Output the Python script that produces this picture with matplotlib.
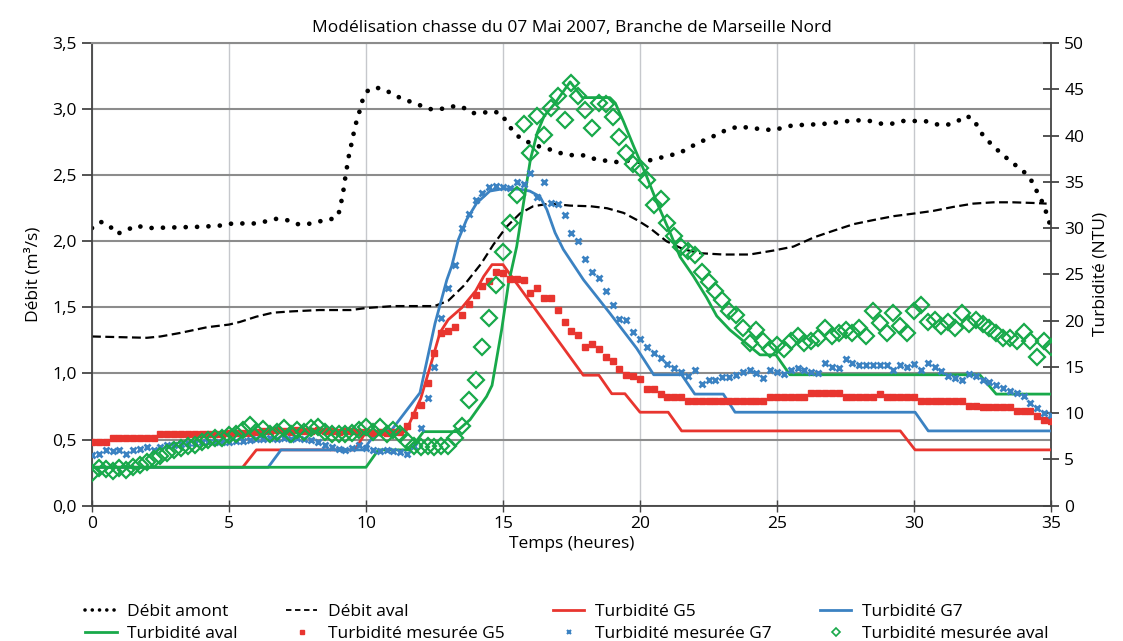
import numpy as np
import matplotlib
matplotlib.use("Agg")
import matplotlib.pyplot as plt
from matplotlib.lines import Line2D
from matplotlib.ticker import FuncFormatter, MultipleLocator

plt.rcParams['font.family'] = ['Open Sans', 'DejaVu Sans']

############################################
# Débit (m3/s), left axis
amont_t = [0, 0.32, 0.63, 0.9, 1.24, 1.6, 2.0, 3.0, 4.0, 4.74, 5.13, 5.93, 6.33, 6.73, 7.12,
           7.48, 7.87, 8.26, 8.64, 8.98, 9.07, 9.15, 9.21, 9.27, 9.34, 9.4, 9.5, 9.57, 9.67,
           9.79, 9.89, 10.1, 10.47, 10.83, 11.2, 11.57, 11.96, 12.31, 12.72, 13.11, 13.49,
           13.86, 14.22, 14.61, 14.95, 15.13, 15.38, 15.68, 16.05, 16.41, 16.8, 17.2, 17.59,
           17.99, 18.38, 18.74, 19.14, 19.53, 19.9, 20.3, 20.7, 21.1, 21.46, 21.82, 22.16,
           22.55, 22.9, 23.26, 23.65, 24.04, 24.44, 24.84, 25.23, 25.63, 26.0, 26.42, 26.8,
           27.2, 27.6, 28.0, 28.4, 28.8, 29.2, 29.6, 30.0, 30.4, 30.8, 31.2, 31.6, 31.9, 32.2,
           32.35, 32.6, 32.9, 33.2, 33.5, 33.8, 34.1, 34.35, 34.5, 34.7, 34.84, 35.0]
amont_q = [2.10, 2.147, 2.12, 2.056, 2.08, 2.12, 2.10, 2.105, 2.11, 2.12, 2.135, 2.135, 2.15, 2.17, 2.16,
           2.13, 2.13, 2.15, 2.16, 2.19, 2.27, 2.35, 2.43, 2.52, 2.60, 2.68, 2.76, 2.84, 2.92,
           3.00, 3.08, 3.15, 3.16, 3.13, 3.09, 3.06, 3.03, 3.00, 3.00, 3.02, 3.02,
           2.97, 2.97, 2.985, 2.965, 2.90, 2.83, 2.77, 2.74, 2.71, 2.69, 2.66, 2.65,
           2.65, 2.62, 2.61, 2.60, 2.61, 2.60, 2.61, 2.63, 2.65, 2.67, 2.71, 2.75,
           2.78, 2.82, 2.85, 2.87, 2.855, 2.85, 2.84, 2.86, 2.88, 2.88, 2.885, 2.89,
           2.90, 2.91, 2.915, 2.91, 2.89, 2.89, 2.91, 2.91, 2.91, 2.885, 2.88, 2.91, 2.95, 2.92,
           2.85, 2.78, 2.72, 2.66, 2.61, 2.56, 2.51, 2.44, 2.37, 2.29, 2.21, 2.10]

aval_t = [0, 1, 2, 2.5, 3.2, 4.2, 5.0, 5.4, 6.0, 6.6, 7.3, 8.3, 9.45, 10.0, 11.0, 12.5, 13.0,
          13.55, 14.2, 14.65, 15.13, 15.62, 16.1, 16.7, 17.45, 18.2, 18.8, 19.4, 19.9, 20.36,
          20.97, 21.58, 22.19, 23.04, 24.0, 24.87, 25.6, 26.35, 27.06, 27.8, 28.5, 29.25,
          30.0, 30.7, 31.43, 32.16, 32.9, 33.6, 34.35, 34.84]
aval_q = [1.28, 1.275, 1.27, 1.28, 1.306, 1.35, 1.37, 1.39, 1.43, 1.46, 1.47, 1.48, 1.48, 1.495, 1.51, 1.51, 1.55,
          1.66, 1.83, 1.975, 2.11, 2.21, 2.265, 2.285, 2.27, 2.265, 2.25, 2.215, 2.16, 2.10,
          2.0, 1.94, 1.91, 1.90, 1.90, 1.93, 1.96, 2.03, 2.08, 2.13, 2.16, 2.19,
          2.21, 2.23, 2.26, 2.285, 2.295, 2.295, 2.29, 2.285]

# Turbidité modélisée (NTU), right axis
g5_t = [0, 5.5, 6.0, 9.6, 10.0, 11.45, 12.0, 12.4, 12.7, 13.0, 13.5, 14.0, 14.3, 14.6, 15.0,
        17.93, 18.5, 18.97, 19.45, 20.0, 21.03, 21.52, 29.5, 30.04, 35]
g5_v = [4.15, 4.15, 6.03, 6.03, 8.0, 8.0, 11.6, 15.6, 18.7, 20.1, 21.4, 23.2, 24.8, 26.05, 26.05,
        14.1, 14.1, 12.1, 12.1, 10.1, 10.1, 8.08, 8.08, 6.03, 6.03]

g7_t = [0, 6.43, 6.9, 9.9, 10.4, 10.94, 11.97, 12.52, 12.95, 13.13, 13.37, 13.67, 14.04, 14.52,
        15.0, 15.62, 15.98, 16.35, 16.6, 16.9, 17.2, 17.94, 18.9, 19.88, 20.5, 21.52, 22.0,
        23.04, 23.47, 30.04, 30.52, 35]
g7_v = [4.15, 4.15, 6.03, 6.03, 8.0, 8.2, 12.2, 19.7, 24.4, 25.9, 28.75, 30.9, 32.7, 34.0,
        34.25, 34.2, 34.0, 33.4, 32.0, 29.5, 27.7, 24.4, 20.8, 17.0, 14.15, 14.15, 12.06,
        12.06, 10.1, 10.1, 8.08, 8.08]

tav_t = [0, 10.0, 10.45, 11.6, 12.1, 13.3, 13.8, 14.4, 14.6, 14.95, 15.2, 15.5, 15.77, 16.0,
         16.25, 16.5, 16.9, 17.45, 17.9, 18.9, 19.1, 19.4, 19.76, 20.24, 20.67, 21.1, 21.46,
         21.95, 22.43, 22.8, 23.28, 24.38, 24.96, 25.47, 32.4, 33.0, 35]
tav_v = [4.15, 4.15, 6.03, 6.03, 8.0, 8.0, 9.3, 11.8, 13.0, 19.0, 24.0, 28.0, 33.1, 37.4,
         40.3, 42.1, 43.5, 45.8, 44.1, 44.1, 43.5, 41.5, 38.9, 35.6, 32.4, 29.5, 26.9,
         24.8, 22.5, 20.5, 19.0, 16.3, 16.3, 14.15, 14.15, 12.06, 12.06]

# Turbidité mesurée (NTU), un point toutes les 15 min
t_mes = np.arange(0, 35.01, 0.25)
mes_g5 = [6.9, 6.9, 6.9, 7.3, 7.3, 7.3, 7.3, 7.3, 7.3, 7.3, 7.8, 7.8, 7.8, 7.8, 7.8, 7.8, 7.8, 7.8, 7.8, 7.8,
          7.9, 7.9, 7.9, 7.9, 8.0, 8.1, 8.1, 8.2, 8.1, 8.0, 8.2, 8.1, 8.1, 8.2, 8.1, 8.1, 8.0, 8.1, 8.1, 8.0,
          8.0, 7.9, 8.0, 7.9, 8.0, 8.0, 8.6, 9.8, 10.9, 13.3, 16.5, 18.7, 18.9, 19.3, 20.6, 21.8, 22.8, 23.7, 24.3, 25.2,
          25.1, 24.5, 24.5, 24.4, 23.0, 23.5, 22.4, 22.4, 21.2, 19.8, 18.9, 18.4, 17.1, 17.5, 16.9, 16.1, 15.6, 14.8, 14.1, 14.0,
          13.7, 12.6, 12.6, 12.05, 11.7, 11.7, 11.7, 11.3, 11.3, 11.3, 11.3, 11.3, 11.3, 11.3, 11.3, 11.3, 11.3, 11.3, 11.3, 11.7,
          11.7, 11.7, 11.7, 11.7, 11.7, 12.2, 12.2, 12.2, 12.2, 12.2, 11.7, 11.7, 11.7, 11.7, 11.7, 12.1, 11.7, 11.7, 11.7, 11.7,
          11.7, 11.3, 11.3, 11.3, 11.3, 11.3, 11.3, 11.3, 10.8, 10.8, 10.65, 10.65, 10.65, 10.65, 10.65, 10.25, 10.25, 10.25, 9.7, 9.3,
          9.2]
mes_g7 = [5.5, 5.6, 6.0, 5.9, 6.0, 5.6, 6.0, 6.1, 6.3, 6.0, 6.3, 6.6, 6.6, 6.7, 6.8, 6.8, 6.9, 6.9, 6.9, 6.9,
          6.9, 7.0, 7.0, 7.1, 7.2, 7.2, 7.3, 7.2, 7.3, 7.2, 7.3, 7.2, 7.1, 6.9, 6.6, 6.3, 6.1, 6.0, 6.2, 6.6,
          6.2, 6.0, 5.9, 6.0, 5.9, 5.8, 5.6, 6.5, 8.4, 11.6, 15.0, 20.3, 23.5, 26.0, 30.0, 31.5, 33.0, 33.8, 34.4, 34.5,
          34.4, 34.3, 35.0, 34.8, 36.0, 33.4, 35.0, 32.7, 32.6, 31.4, 29.5, 28.6, 26.7, 25.3, 24.6, 23.2, 21.7, 20.2, 20.1, 18.8,
          18.0, 17.2, 16.5, 16.0, 15.3, 14.9, 14.4, 14.0, 14.7, 13.1, 13.6, 13.6, 13.9, 13.9, 14.15, 14.5, 14.7, 14.3, 13.8, 14.7,
          14.5, 14.2, 14.7, 14.9, 14.7, 14.5, 14.3, 15.4, 15.0, 14.9, 15.8, 15.4, 15.2, 15.2, 15.2, 15.2, 15.2, 14.7, 15.2, 15.0,
          15.3, 14.7, 15.4, 15.0, 14.6, 14.0, 13.8, 13.6, 14.2, 14.0, 13.6, 13.4, 13.0, 12.7, 12.4, 12.2, 11.8, 11.1, 10.6, 10.0,
          9.8]
mes_aval = [3.5, 4.1, 4.0, 3.7, 4.1, 3.9, 4.2, 4.4, 4.7, 5.0, 5.4, 5.7, 6.0, 6.2, 6.4, 6.6, 6.9, 7.1, 7.3, 7.3,
            7.6, 7.8, 8.2, 8.7, 8.0, 8.3, 7.8, 8.0, 8.4, 7.8, 8.2, 8.0, 8.4, 8.5, 8.0, 7.8, 7.8, 7.7, 7.9, 8.2,
            8.5, 8.0, 8.5, 7.8, 8.2, 7.7, 7.0, 6.5, 6.3, 6.5, 6.3, 6.4, 6.5, 7.3, 8.6, 11.4, 13.6, 17.2, 20.3, 23.8,
            27.4, 30.6, 33.6, 41.2, 38.1, 42.1, 40.1, 43.0, 44.3, 41.7, 45.7, 44.3, 42.8, 40.8, 43.5, 43.4, 42.0, 39.8, 38.1, 36.9,
            36.5, 35.2, 32.5, 33.1, 30.6, 29.1, 28.0, 27.5, 27.1, 25.3, 24.2, 23.2, 22.2, 21.0, 20.6, 19.2, 17.6, 19.0, 17.8, 16.9,
            17.4, 16.9, 17.8, 18.3, 17.6, 17.8, 18.1, 19.2, 18.3, 18.7, 19.0, 18.7, 19.2, 18.3, 21.0, 19.7, 18.7, 20.8, 19.4, 18.7,
            21.0, 21.7, 19.9, 20.1, 19.4, 19.9, 19.2, 20.8, 19.6, 20.1, 19.6, 19.2, 18.7, 18.1, 18.1, 17.8, 18.8, 17.8, 16.1, 17.8,
            17.2]
############################################

red = '#e8352f'
blue = '#3b82c2'
green = '#18a94a'
fs = 12.5

fig = plt.figure(figsize=(11.23, 6.41), dpi=100)
ax = fig.add_axes([0.0819, 0.2111, 0.854, 0.7218])
ax2 = ax.twinx()

ax.plot(amont_t, amont_q, color='black', lw=3.4, linestyle=(0, (0.01, 2.4)),
        dash_capstyle='round')
ax.plot(aval_t, aval_q, color='black', lw=1.6, linestyle=(0, (4, 2)))

ax2.plot(g5_t, g5_v, color=red, lw=2.0)
ax2.plot(g7_t, g7_v, color=blue, lw=2.0)
ax2.plot(tav_t, tav_v, color=green, lw=2.0)
ax2.plot(t_mes, mes_g5, linestyle='none', marker='s', ms=4.5, color=red)
ax2.plot(t_mes, mes_g7, linestyle='none', marker='x', ms=5, mew=2.0, color=blue)
ax2.plot(t_mes, mes_aval, linestyle='none', marker='D', ms=8.5, mew=1.6, mfc='none', mec=green)

ax.set_xlim(0, 35)
ax.set_ylim(0, 3.5)
ax2.set_ylim(0, 50)
ax.xaxis.set_major_locator(MultipleLocator(5))
ax.yaxis.set_major_locator(MultipleLocator(0.5))
ax2.yaxis.set_major_locator(MultipleLocator(5))
ax.yaxis.set_major_formatter(FuncFormatter(lambda v, p: ('%.1f' % v).replace('.', ',')))

ax.grid(axis='y', color='#8c8c8c', lw=1.5)
ax.grid(axis='x', color='#c6c8cc', lw=1.0)
ax.set_axisbelow(True)
for s in ['left', 'bottom', 'right']:
    ax.spines[s].set_color('#444444')
    ax.spines[s].set_linewidth(1.3)
ax.spines['top'].set_color('#8c8c8c')
ax.spines['top'].set_linewidth(1.5)
for s in ax2.spines.values():
    s.set_visible(False)

ax.tick_params(axis='y', direction='out', length=7, width=1.3, color='#444444', labelsize=fs, pad=4)
ax.tick_params(axis='x', direction='inout', length=8, width=1.0, color='#444444', labelsize=fs)
ax2.tick_params(axis='y', direction='inout', length=12, width=1.3, color='#444444', labelsize=fs)

ax.set_title('Modélisation chasse du 07 Mai 2007, Branche de Marseille Nord', fontsize=fs, pad=8)
ax.set_xlabel('Temps (heures)', fontsize=fs, labelpad=3)
ax.set_ylabel('Débit (m³/s)', fontsize=fs, labelpad=8)
ax2.set_ylabel('Turbidité (NTU)', fontsize=fs, labelpad=6)

# legend with small symbols, as in the original
handles = [
    Line2D([], [], color='black', lw=2.6, linestyle=(0, (0.01, 2.0)), dash_capstyle='round'),
    Line2D([], [], color=green, lw=2.0),
    Line2D([], [], color='black', lw=1.3, linestyle=(0, (3, 2))),
    Line2D([], [], linestyle='none', marker='s', ms=3, color=red),
    Line2D([], [], color=red, lw=2.0),
    Line2D([], [], linestyle='none', marker='x', ms=3, mew=1.5, color=blue),
    Line2D([], [], color=blue, lw=2.0),
    Line2D([], [], linestyle='none', marker='D', ms=4, mew=1.2, mfc='none', mec=green),
]
labels = ['Débit amont', 'Turbidité aval', 'Débit aval', 'Turbidité mesurée G5',
          'Turbidité G5', 'Turbidité mesurée G7', 'Turbidité G7', 'Turbidité mesurée aval']
fig.legend(handles, labels, ncol=4, frameon=False,
           loc='lower left', bbox_to_anchor=(0.062, -0.026), fontsize=fs,
           handlelength=1.8, handletextpad=0.6, columnspacing=2.8, labelspacing=0.35,
           numpoints=1)

plt.savefig('out.png', dpi=100)
